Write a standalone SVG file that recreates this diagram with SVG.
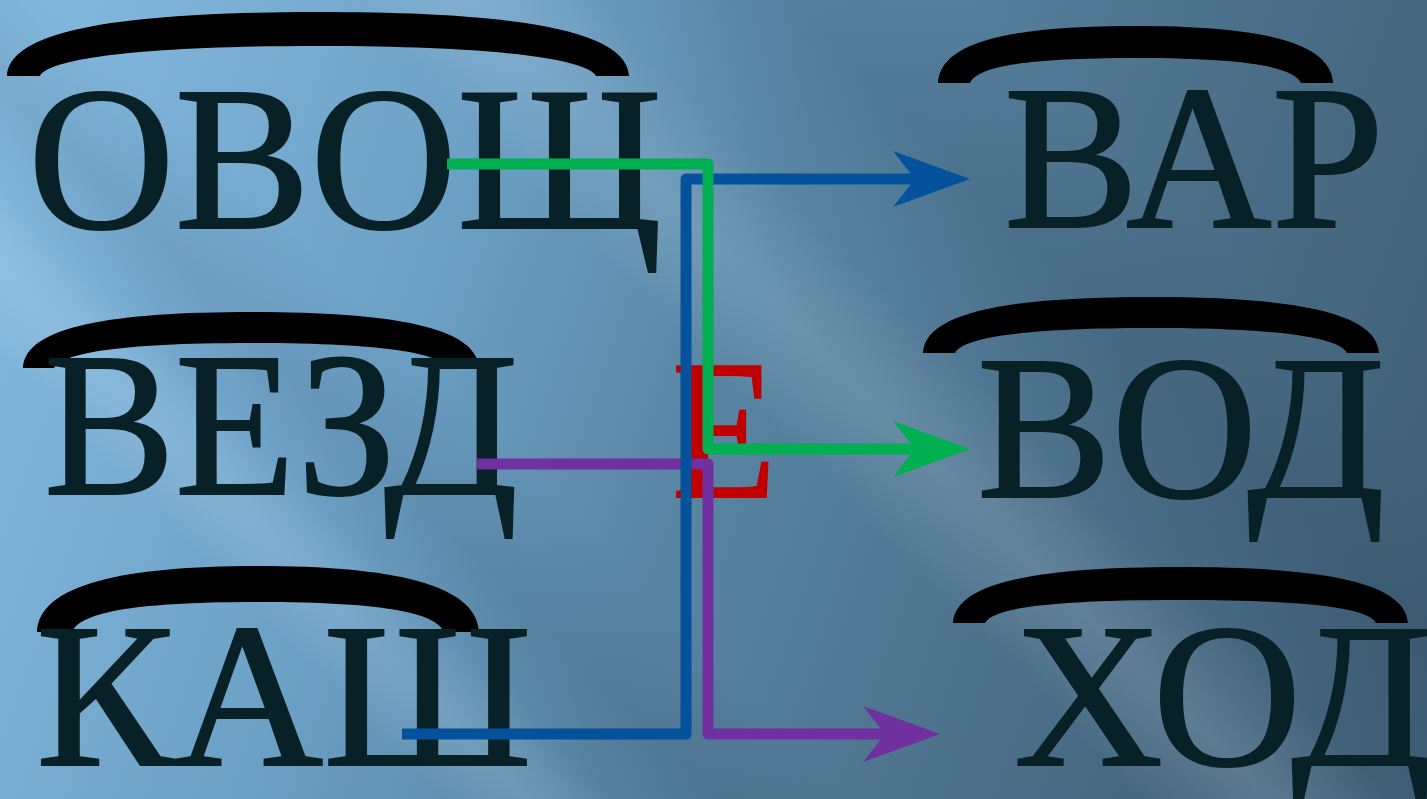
<svg xmlns="http://www.w3.org/2000/svg" width="1427" height="799" viewBox="0 0 1427 799">
  <defs>
    <linearGradient id="bg" gradientUnits="userSpaceOnUse" x1="0" y1="150" x2="1427" y2="650">
      <stop offset="0" stop-color="#84b9df"/>
      <stop offset="0.3" stop-color="#6c9fc4"/>
      <stop offset="0.5" stop-color="#5985a3"/>
      <stop offset="0.75" stop-color="#4b6f89"/>
      <stop offset="1" stop-color="#3f5f77"/>
    </linearGradient>
    <linearGradient id="streak" x1="0" y1="0" x2="1" y2="0">
      <stop offset="0" stop-color="#ffffff" stop-opacity="0"/>
      <stop offset="0.5" stop-color="#cfe6f7" stop-opacity="0.16"/>
      <stop offset="1" stop-color="#ffffff" stop-opacity="0"/>
    </linearGradient>
    <linearGradient id="shade" x1="0" y1="0" x2="1" y2="0">
      <stop offset="0" stop-color="#1c3548" stop-opacity="0"/>
      <stop offset="0.5" stop-color="#1c3548" stop-opacity="0.12"/>
      <stop offset="1" stop-color="#1c3548" stop-opacity="0"/>
    </linearGradient>
    <marker id="ah-blue" markerUnits="userSpaceOnUse" viewBox="-25 -30 82 60" refX="0" refY="0" markerWidth="82" markerHeight="60" orient="auto" overflow="visible">
      <path d="M55,0 L-22,-28 L0,0 L-22,28 Z" fill="#03529b"/>
    </marker>
    <marker id="ah-green" markerUnits="userSpaceOnUse" viewBox="-25 -30 82 60" refX="0" refY="0" markerWidth="82" markerHeight="60" orient="auto" overflow="visible">
      <path d="M55,0 L-22,-28 L0,0 L-22,28 Z" fill="#00b050"/>
    </marker>
    <marker id="ah-purple" markerUnits="userSpaceOnUse" viewBox="-25 -30 82 60" refX="0" refY="0" markerWidth="82" markerHeight="60" orient="auto" overflow="visible">
      <path d="M55,0 L-22,-28 L0,0 L-22,28 Z" fill="#7030a0"/>
    </marker>
  </defs>
  <style>
    .word { font-family: "Liberation Serif", "DejaVu Serif", serif; font-size: 205px; fill: #072127; stroke: #072127; stroke-width: 2; }
    .letter { font-family: "Liberation Serif", "DejaVu Serif", serif; font-size: 200px; fill: #c00000; stroke: #c00000; stroke-width: 2; }
    .arc { fill: #000000; }
    .conn { fill: none; stroke-width: 11; stroke-linejoin: round; stroke-linecap: butt; }
  </style>

  <g id="background">
    <rect x="0" y="0" width="1427" height="799" fill="url(#bg)"/>
    <rect x="-90" y="-1400" width="180" height="2800" fill="url(#streak)" transform="translate(800,330) rotate(-45)"/>
    <rect x="-60" y="-1400" width="120" height="2800" fill="url(#streak)" transform="translate(330,600) rotate(-45)"/>
    <rect x="-130" y="-1400" width="260" height="2800" fill="url(#shade)" transform="translate(1010,220) rotate(-45)"/>
    <rect x="-100" y="-1400" width="200" height="2800" fill="url(#shade)" transform="translate(560,640) rotate(-45)"/>
  </g>

  <g id="node-ovoshch">
    <path class="arc" d="M7,76 C9,28 131,12 318,12 C505,12 627,28 629,76 L596,76 C588,60 505,46 318,46 C131,46 48,60 40,76 Z"/>
    <text class="word" x="28" y="228" textLength="634" lengthAdjust="spacingAndGlyphs">ОВОЩ</text>
  </g>
  <g id="node-vezd">
    <path class="arc" d="M23,368 C25,326 114,312 251,312 C388,312 477,326 479,368 L448,368 C440,354 388,343 251,343 C114,343 62,354 54,368 Z"/>
    <text class="word" x="44" y="494" textLength="474" lengthAdjust="spacingAndGlyphs">ВЕЗД</text>
  </g>
  <g id="node-kash">
    <path class="arc" d="M37,632 C39,584 125,566 258,566 C391,566 477,584 479,632 L444,632 C436,614 391,602 258,602 C125,602 80,614 72,632 Z"/>
    <text class="word" x="36" y="765" textLength="496" lengthAdjust="spacingAndGlyphs">КАШ</text>
  </g>
  <g id="node-e">
    <text class="letter" x="672" y="497" textLength="104" lengthAdjust="spacingAndGlyphs">Е</text>
  </g>
  <g id="node-var">
    <path class="arc" d="M938,83 C940,40 1017,26 1135,26 C1253,26 1331,40 1333,83 L1301,83 C1294,68 1253,58 1135,58 C1017,58 977,68 970,83 Z"/>
    <text class="word" x="1004" y="227" textLength="380" lengthAdjust="spacingAndGlyphs">ВАР</text>
  </g>
  <g id="node-vod">
    <path class="arc" d="M923,353 C925,311 1014,297 1151,297 C1288,297 1377,311 1379,353 L1347,353 C1340,339 1288,328 1151,328 C1014,328 962,339 955,353 Z"/>
    <text class="word" x="977" y="497" textLength="408" lengthAdjust="spacingAndGlyphs">ВОД</text>
  </g>
  <g id="node-khod">
    <path class="arc" d="M953,623 C955,581 1043,567 1180,567 C1317,567 1406,581 1408,623 L1376,623 C1369,609 1317,600 1180,600 C1043,600 992,609 985,623 Z"/>
    <text class="word" x="1014" y="765" textLength="418" lengthAdjust="spacingAndGlyphs">ХОД</text>
  </g>

  <g id="connectors">
    <path class="conn" stroke="#7030a0" d="M477,464 H708 V734 H885" marker-end="url(#ah-purple)"/>
    <path class="conn" stroke="#03529b" d="M402,734 H686 V179 H915" marker-end="url(#ah-blue)"/>
    <path class="conn" stroke="#00b050" d="M447,164 H708 V449 H915" marker-end="url(#ah-green)"/>
  </g>
</svg>
